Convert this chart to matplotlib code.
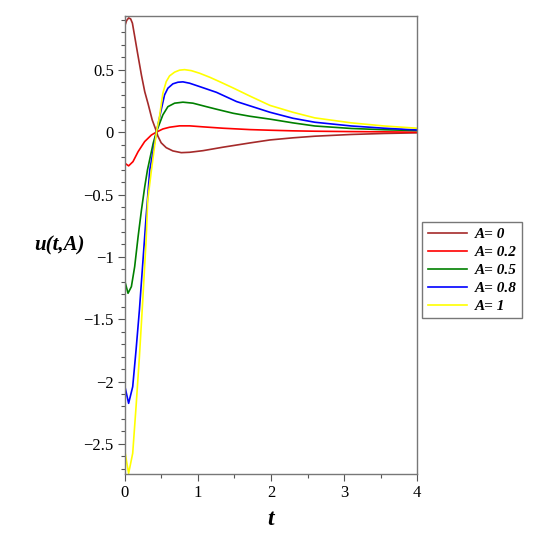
import numpy as np
import matplotlib
matplotlib.use("Agg")
import matplotlib.pyplot as plt
from matplotlib.ticker import MultipleLocator, FuncFormatter

# values
t_a0 = [0.0, 0.023, 0.051, 0.078, 0.102, 0.133, 0.171, 0.226, 0.271, 0.318, 0.373, 0.432,
        0.45, 0.496, 0.565, 0.656, 0.771, 0.886, 1.069, 1.344, 1.711, 1.986, 2.3, 2.6,
        3.1, 3.55, 4.0]
u_a0 = [0.856, 0.896, 0.917, 0.909, 0.875, 0.77, 0.64, 0.457, 0.325, 0.225, 0.099, 0.005,
        -0.03, -0.085, -0.124, -0.150, -0.164, -0.161, -0.148, -0.120, -0.086, -0.062,
        -0.045, -0.032, -0.018, -0.010, -0.005]

t_a02 = [0.0, 0.05, 0.11, 0.18, 0.27, 0.363, 0.428, 0.519, 0.611, 0.748, 0.886, 1.069,
         1.344, 1.711, 1.986, 2.3, 2.6, 3.1, 3.55, 4.0]
u_a02 = [-0.249, -0.27, -0.236, -0.156, -0.075, -0.022, 0.0, 0.026, 0.04, 0.051, 0.051,
         0.043, 0.032, 0.021, 0.016, 0.011, 0.008, 0.005, 0.003, 0.0]

t_a05 = [0.0, 0.042, 0.088, 0.133, 0.18, 0.226, 0.271, 0.308, 0.387, 0.432, 0.519, 0.588,
         0.68, 0.794, 0.931, 1.115, 1.25, 1.482, 1.711, 1.986, 2.3, 2.6, 3.1, 3.55, 4.0]
u_a05 = [-1.199, -1.292, -1.239, -1.079, -0.838, -0.624, -0.437, -0.303, -0.088, 0.005,
         0.139, 0.205, 0.233, 0.241, 0.233, 0.205, 0.185, 0.152, 0.128, 0.105, 0.075,
         0.05, 0.03, 0.02, 0.013]

t_a08 = [0.0, 0.05, 0.106, 0.152, 0.198, 0.244, 0.29, 0.34, 0.432, 0.496, 0.542, 0.588,
         0.656, 0.725, 0.794, 0.886, 1.023, 1.253, 1.528, 1.986, 2.3, 2.6, 3.1, 3.55, 4.0]
u_a08 = [-2.042, -2.175, -2.042, -1.747, -1.426, -1.051, -0.677, -0.303, 0.005, 0.179,
         0.299, 0.353, 0.388, 0.401, 0.404, 0.393, 0.366, 0.32, 0.246, 0.16, 0.112,
         0.08, 0.05, 0.032, 0.018]

t_a1 = [0.0, 0.05, 0.106, 0.152, 0.198, 0.244, 0.29, 0.312, 0.363, 0.432, 0.473, 0.519,
        0.565, 0.611, 0.68, 0.748, 0.817, 0.909, 1.023, 1.161, 1.298, 1.482, 1.711,
        1.986, 2.3, 2.6, 3.1, 3.55, 4.0]
u_a1 = [-2.563, -2.737, -2.576, -2.202, -1.801, -1.346, -0.864, -0.543, -0.303, 0.005,
        0.125, 0.313, 0.406, 0.452, 0.482, 0.498, 0.502, 0.494, 0.473, 0.441, 0.405,
        0.355, 0.29, 0.215, 0.16, 0.115, 0.075, 0.05, 0.032]

labels = ["A= 0", "A= 0.2", "A= 0.5", "A= 0.8", "A= 1"]
colors = ["#a52a2a", "#ff0000", "#008000", "#0000ff", "#ffff00"]

plt.rcParams["font.family"] = ["Liberation Serif", "DejaVu Serif"]
plt.rcParams["axes.unicode_minus"] = True

fig = plt.figure(figsize=(5.34, 5.39), dpi=100)
ax = fig.add_axes([0.234, 0.1206, 0.547, 0.8494])

series = [(t_a0, u_a0), (t_a02, u_a02), (t_a05, u_a05), (t_a08, u_a08), (t_a1, u_a1)]
for (t, u), lab, col in zip(series, labels, colors):
    ax.plot(t, u, color=col, lw=1.2, label=lab, solid_joinstyle="round")

ax.set_xlim(0, 4)
ax.set_ylim(-2.742, 0.931)

ax.xaxis.set_major_locator(MultipleLocator(1))
ax.xaxis.set_minor_locator(MultipleLocator(0.5))
ax.yaxis.set_major_locator(MultipleLocator(0.5))
ax.yaxis.set_minor_locator(MultipleLocator(0.1))
ax.yaxis.set_major_formatter(FuncFormatter(lambda v, p: ("%g" % round(v, 2)).replace("-", "\u2212")))
ax.xaxis.set_major_formatter(FuncFormatter(lambda v, p: "%g" % v))
ax.tick_params(which="major", length=5, width=0.8, color="#555555", labelsize=12, pad=3)
ax.tick_params(which="minor", length=3, width=0.8, color="#555555")

for s in ax.spines.values():
    s.set_color("#777777")
    s.set_linewidth(1.0)

ax.set_xlabel("t", fontsize=17, fontweight="bold", style="italic", labelpad=6)
fig.text(0.112, 0.545, "u(t,A)", fontsize=15, fontweight="bold", style="italic",
         ha="center", va="center")

leg = fig.legend(loc="upper left", bbox_to_anchor=(0.791, 0.588), frameon=True,
                 fancybox=False, handlelength=2.6, handletextpad=0.5,
                 labelspacing=0.28, borderpad=0.35, borderaxespad=0,
                 prop={"size": 11, "weight": "bold", "style": "italic"})
leg.get_frame().set_edgecolor("#555555")
leg.get_frame().set_linewidth(1.0)

fig.savefig("out.png", dpi=100)
